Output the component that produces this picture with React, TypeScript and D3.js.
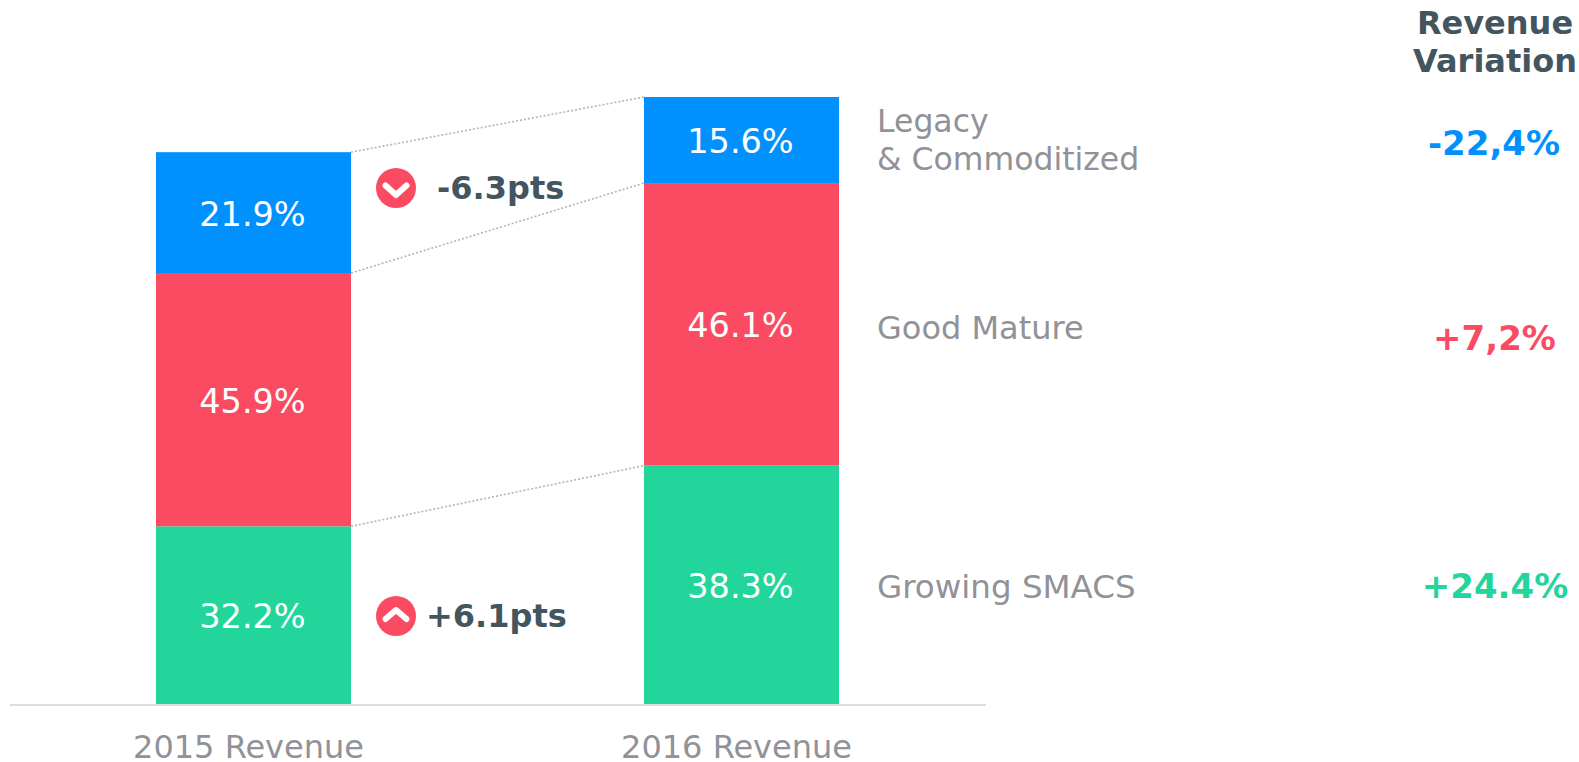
import React, { useEffect, useRef } from 'react';
import * as d3 from 'd3';

const YEARS = ['2015 Revenue', '2016 Revenue'];
const SEGMENTS = ['growing', 'mature', 'legacy'];
// printed percentages
const LABELS_2015 = [32.2, 45.9, 21.9];
const LABELS_2016 = [38.3, 46.1, 15.6];
// heights as drawn: the 2016 bar is taller and does not follow its printed shares
const HEIGHTS_2015 = [32.2, 45.9, 21.9];
const HEIGHTS_2016 = [43.2, 51.2, 15.6];
const SEGMENT_COLORS = ['#22d69b', '#fb4b62', '#0091ff'];
const LEGEND_LINES = [['Growing SMACS'], ['Good Mature'], ['Legacy', '& Commoditized']];
const LEGEND_Y = [[598], [339], [132, 170]];
const LEGEND_SIZES = [[32.5], [32], [31.5, 31.5]];
const VARIATIONS = ['+24.4%', '+7,2%', '-22,4%'];
const VARIATION_X = [1495, 1494.5, 1494];
const VARIATION_Y = [598, 350, 155];
const DELTAS = [
  { label: '-6.3pts', dir: 'down', y: 188, textX: 437 },
  { label: '+6.1pts', dir: 'up', y: 616, textX: 426 },
];

const WIDTH = 1579;
const HEIGHT = 762;
const BASE_Y = 704;
const TOP_Y = 97;
const TEXT_FONT = '"DejaVu Sans", Verdana, sans-serif';
const GREY = '#919198';
const DARK = '#43555e';

const App = () => {
  const svgRef = useRef<SVGSVGElement>(null);

  useEffect(() => {
    const svg = d3.select(svgRef.current);
    svg.selectAll('*').remove();

    const xScale = d3.scaleBand().domain(YEARS).range([156, 839]).paddingInner(293 / 488);
    const yScale = d3.scaleLinear().domain([0, d3.sum(HEIGHTS_2016)]).range([BASE_Y, TOP_Y]);

    const rows = YEARS.map((year, i) => {
      const heights = i === 0 ? HEIGHTS_2015 : HEIGHTS_2016;
      const row: any = { year, labels: i === 0 ? LABELS_2015 : LABELS_2016 };
      SEGMENTS.forEach((s, j) => {
        row[s] = heights[j];
      });
      return row;
    });
    const series = d3.stack().keys(SEGMENTS)(rows);

    // dotted connectors between the two bars
    const line = d3.line<any>().x((d) => d[0]).y((d) => d[1]);
    series.forEach((s) => {
      svg.append('path')
        .attr('d', line([
          [xScale(YEARS[0]) + xScale.bandwidth(), yScale(s[0][1])],
          [xScale(YEARS[1]), yScale(s[1][1])],
        ]))
        .attr('fill', 'none')
        .attr('stroke', '#b4b4b4')
        .attr('stroke-width', 1.6)
        .attr('stroke-dasharray', '2 2');
    });

    series.forEach((s, k) => {
      const g = svg.append('g');
      g.selectAll('rect')
        .data(s)
        .enter()
        .append('rect')
        .attr('x', (d: any) => xScale(d.data.year))
        .attr('width', xScale.bandwidth())
        .attr('y', (d) => yScale(d[1]))
        .attr('height', (d) => yScale(d[0]) - yScale(d[1]))
        .attr('fill', SEGMENT_COLORS[k]);
      g.selectAll('text')
        .data(s)
        .enter()
        .append('text')
        .text((d: any) => `${d.data.labels[k].toFixed(1)}%`)
        .attr('x', (d: any) => xScale(d.data.year) + xScale.bandwidth() / 2 - 1)
        .attr('y', (d) => (yScale(d[0]) + yScale(d[1])) / 2 + 13)
        .attr('text-anchor', 'middle')
        .attr('fill', '#fff')
        .attr('font-size', 33.5);
    });

    const axis = svg.append('g')
      .attr('transform', `translate(0, ${BASE_Y + 1})`)
      .call(d3.axisBottom(xScale).tickSize(0).tickPadding(30));
    axis.select('.domain').remove();
    axis.selectAll('text')
      .attr('dx', -5)
      .attr('font-size', 32)
      .attr('font-family', TEXT_FONT)
      .attr('fill', GREY);
    svg.append('line')
      .attr('x1', 10).attr('x2', 986)
      .attr('y1', BASE_Y + 1).attr('y2', BASE_Y + 1)
      .attr('stroke', '#dedede')
      .attr('stroke-width', 2);

    LEGEND_LINES.forEach((lines, i) => {
      lines.forEach((text, j) => {
        svg.append('text')
          .text(text)
          .attr('x', 877)
          .attr('y', LEGEND_Y[i][j])
          .attr('fill', GREY)
          .attr('font-size', LEGEND_SIZES[i][j]);
      });
    });

    VARIATIONS.forEach((v, i) => {
      svg.append('text')
        .text(v)
        .attr('x', VARIATION_X[i])
        .attr('y', VARIATION_Y[i])
        .attr('text-anchor', 'middle')
        .attr('fill', SEGMENT_COLORS[i])
        .attr('font-weight', 'bold')
        .attr('font-size', 34);
    });

    ['Revenue', 'Variation'].forEach((t, i) => {
      svg.append('text')
        .text(t)
        .attr('x', 1495)
        .attr('y', 34 + i * 38)
        .attr('text-anchor', 'middle')
        .attr('fill', DARK)
        .attr('font-weight', 'bold')
        .attr('font-size', 32);
    });

    DELTAS.forEach((d) => {
      const badge = svg.append('g').attr('transform', `translate(396, ${d.y})`);
      badge.append('circle').attr('r', 20).attr('fill', '#fb4b62');
      const ends = d.dir === 'down' ? -2.5 : 3;
      const tip = d.dir === 'down' ? 7 : -6;
      badge.append('path')
        .attr('d', line([[-10.5, ends], [0, tip], [10.5, ends]]))
        .attr('fill', 'none')
        .attr('stroke', '#fff')
        .attr('stroke-width', 6)
        .attr('stroke-linecap', 'round')
        .attr('stroke-linejoin', 'round');
      svg.append('text')
        .text(d.label)
        .attr('x', d.textX)
        .attr('y', d.y + 11)
        .attr('fill', DARK)
        .attr('font-weight', 'bold')
        .attr('font-size', 32);
    });
  }, []);

  return (
    <svg
      ref={svgRef}
      width={WIDTH}
      height={HEIGHT}
      fontFamily={TEXT_FONT}
      style={{ position: 'absolute', left: 0, top: 0 }}
    />
  );
};

export default App;
